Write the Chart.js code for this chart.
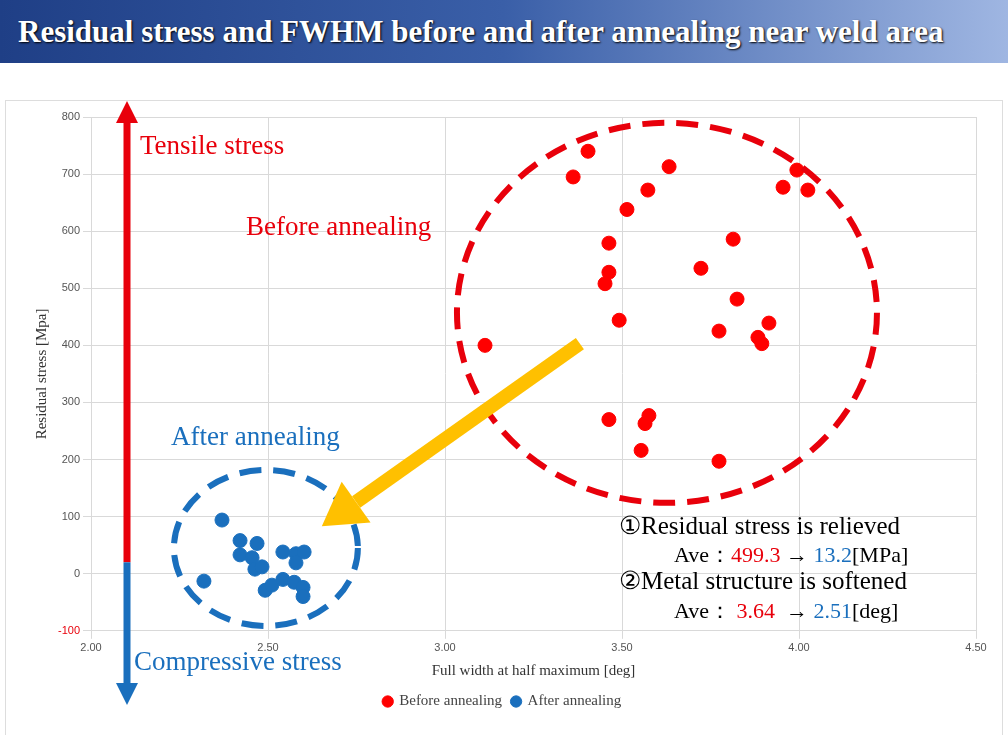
<!DOCTYPE html><html><head><meta charset="utf-8">
<script src="https://cdn.jsdelivr.net/npm/chart.js@4/dist/chart.umd.min.js"></script>
<style>
body{margin:0;width:1008px;height:735px;background:#fff;overflow:hidden;font-family:"Liberation Serif",serif}
#title{position:absolute;left:0;top:0;width:1008px;height:63px;background:linear-gradient(90deg,#1f3f86,#3a5fa8 50%,#9fb6e2);color:#fff;font:bold 31px "Liberation Serif",serif;line-height:63px;padding-left:18px;box-sizing:border-box;text-shadow:1px 1px 2px #000;white-space:nowrap}
#box{position:absolute;left:5px;top:100px;width:998px;height:640px;border:1px solid #ddd;box-sizing:border-box}
</style></head><body>
<div id="title">Residual stress and FWHM before and after annealing near weld area</div>
<div id="box"><canvas id="c" width="996" height="638"></canvas></div>
<script>
const beforeX=[3.113,3.362,3.404,3.633,3.994,3.955,4.025,3.573,3.514,3.463,3.463,3.452,3.723,3.814,3.825,3.492,3.774,3.884,3.915,3.895,3.463,3.576,3.565,3.554,3.774];
const beforeY=[400,695,740,713,707,677,672,672,638,579,528,508,535,586,481,444,425,414,439,403,270,277,263,216,197];
const afterX=[2.370,2.319,2.421,2.421,2.469,2.455,2.463,2.483,2.492,2.511,2.542,2.542,2.579,2.602,2.579,2.574,2.599,2.599];
const afterY=[94,-13,58,33,53,28,8,12,-29,-20,-10,38,35,38,19,-15,-24,-40];
const xTicks=[2.0,2.5,3.0,3.5,4.0,4.5];
const yTicks=[-100,0,100,200,300,400,500,600,700,800];
const pts=(xs,ys)=>xs.map((x,i)=>({x,y:ys[i]}));
const over={id:'over',afterDatasetsDraw(ch){
 const c=ch.ctx,X=ch.scales.x,Y=ch.scales.y;
 const px=v=>X.getPixelForValue(v),py=v=>Y.getPixelForValue(v);
 c.save();
 const ax=121, y0=py(20);
 c.lineWidth=7;c.strokeStyle='#e8000b';c.beginPath();c.moveTo(ax,y0);c.lineTo(ax,18);c.stroke();
 c.fillStyle='#e8000b';c.beginPath();c.moveTo(ax-11,22);c.lineTo(ax+11,22);c.lineTo(ax,0);c.fill();
 c.strokeStyle='#1a6fbd';c.beginPath();c.moveTo(ax,y0);c.lineTo(ax,584);c.stroke();
 c.fillStyle='#1a6fbd';c.beginPath();c.moveTo(ax-11,582);c.lineTo(ax+11,582);c.lineTo(ax,604);c.fill();
 c.setLineDash([22,12]);c.lineWidth=6;
 c.strokeStyle='#e8000b';c.beginPath();c.ellipse(px(3.627),py(457),210,190,0,0,Math.PI*2);c.stroke();
 c.strokeStyle='#1a6fbd';c.beginPath();c.ellipse(px(2.494),py(45),92,78,0,0,Math.PI*2);c.stroke();
 c.setLineDash([]);
 const x1=px(3.381),y1=py(403),x2=px(2.652),y2=py(83);
 const ang=Math.atan2(y2-y1,x2-x1);
 c.strokeStyle='#ffc000';c.fillStyle='#ffc000';c.lineWidth=14;
 const bx=x2-Math.cos(ang)*42,by=y2-Math.sin(ang)*42;
 c.beginPath();c.moveTo(x1,y1);c.lineTo(bx,by);c.stroke();
 const pa=ang+Math.PI/2;
 c.beginPath();c.moveTo(x2,y2);c.lineTo(bx+Math.cos(pa)*25,by+Math.sin(pa)*25);c.lineTo(bx-Math.cos(pa)*25,by-Math.sin(pa)*25);c.fill();
 c.font='27px "Liberation Serif",serif';c.textBaseline='middle';
 c.fillStyle='#e8000b';c.fillText('Tensile stress',134,46);c.fillText('Before annealing',240,127);
 c.fillStyle='#1a6fbd';c.fillText('After annealing',165,337);c.fillText('Compressive stress',128,562);
 c.font='25px "Liberation Serif",serif';c.fillStyle='#000';
 c.fillText('①Residual stress is relieved',613,426);
 c.fillText('②Metal structure is softened',613,481);
 const seg=(x,y,parts)=>{for(const[t,col]of parts){c.fillStyle=col;c.fillText(t,x,y);x+=c.measureText(t).width;}};
 c.font='22px "Liberation Serif",serif';
 seg(668,455,[['Ave：','#000'],['499.3','#e8000b'],[' → ','#000'],['13.2','#1a6fbd'],['[MPa]','#000']]);
 seg(668,511,[['Ave： ','#000'],['3.64','#e8000b'],['  → ','#000'],['2.51','#1a6fbd'],['[deg]','#000']]);
 c.restore();}};
new Chart(document.getElementById('c'),{type:'scatter',
 data:{datasets:[
  {label:'Before annealing',data:pts(beforeX,beforeY),backgroundColor:'#ff0000',borderColor:'#ff0000',pointRadius:7},
  {label:'After annealing',data:pts(afterX,afterY),backgroundColor:'#1a6fbd',borderColor:'#1a6fbd',pointRadius:7}]},
 options:{responsive:false,animation:false,
  layout:{padding:{left:23,right:26,top:16,bottom:20}},
  plugins:{legend:{position:'bottom',labels:{usePointStyle:true,pointStyle:'circle',boxWidth:8,boxHeight:8,color:'#444',font:{family:'Liberation Serif',size:15}}},tooltip:{enabled:false}},
  scales:{
   x:{type:'linear',min:2,max:4.5,afterBuildTicks:s=>{s.ticks=xTicks.map(v=>({value:v}))},
      ticks:{callback:v=>v.toFixed(2),color:'#555',font:{size:11}},grid:{color:'#d9d9d9'},border:{color:'#d9d9d9'},
      title:{display:true,text:'Full width at half maximum [deg]',color:'#333',font:{family:'Liberation Serif',size:15}}},
   y:{min:-100,max:800,afterBuildTicks:s=>{s.ticks=yTicks.map(v=>({value:v}))},
      ticks:{color:c=>c.tick&&c.tick.value===-100?'#e8000b':'#555',font:{size:11}},grid:{color:'#d9d9d9'},border:{color:'#d9d9d9'},
      title:{display:true,text:'Residual stress [Mpa]',color:'#333',font:{family:'Liberation Serif',size:15}}}}},
 plugins:[over]});
</script></body></html>
